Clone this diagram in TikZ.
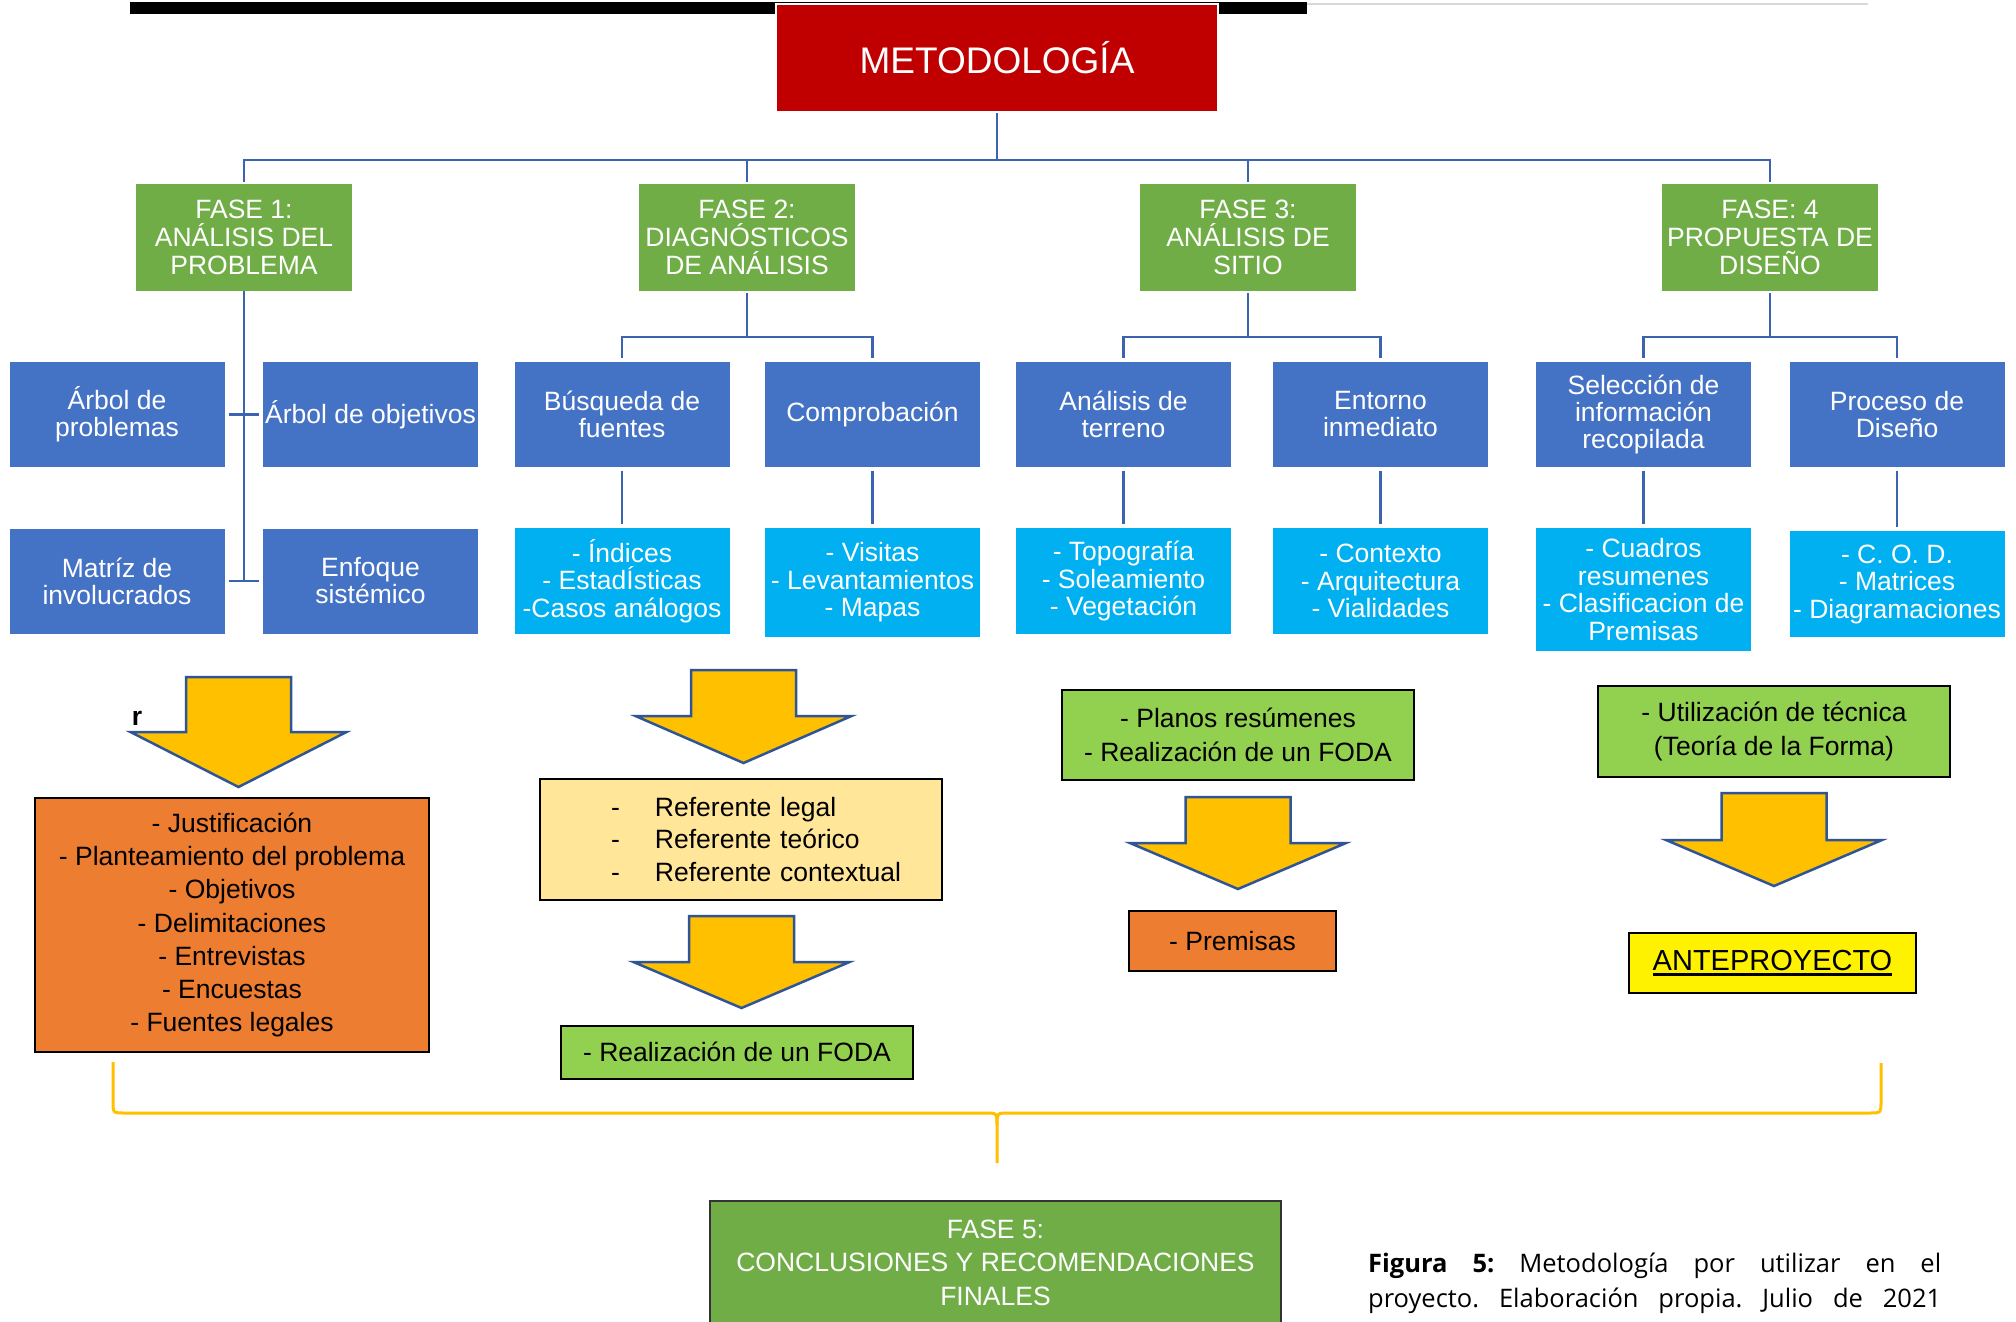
\documentclass[tikz,border=0pt]{standalone}
\usepackage{fontspec}
\setmainfont{Liberation Sans}
\newfontfamily\capfont{Open Sans}
\definecolor{cred}{HTML}{C00000}
\definecolor{cgreen}{HTML}{70AD47}
\definecolor{cblue}{HTML}{4472C4}
\definecolor{clblue}{HTML}{00B0F0}
\definecolor{cline}{HTML}{3C63B0}
\definecolor{corange}{HTML}{ED7D31}
\definecolor{cpale}{HTML}{FFE699}
\definecolor{clgreen}{HTML}{92D050}
\definecolor{cgold}{HTML}{FFC000}
\definecolor{carrowline}{HTML}{2F5597}
\newcommand{\dnarrow}[4]{\draw[barrow] (#1-52.5,#2) -- (#1+52.5,#2) -- (#1+52.5,#3) -- (#1+108,#3) -- (#1,#4) -- (#1-108,#3) -- (#1-52.5,#3) -- cycle;}
\begin{document}
\begin{tikzpicture}[x=1pt,y=-1pt,
  conn/.style={draw=cline, line width=2.5pt},
  phase/.style={rectangle, fill=cgreen, text=white, minimum width=216pt, minimum height=107pt, inner sep=0pt, align=center, font=\fontsize{26.5}{28}\selectfont},
  sub/.style={rectangle, fill=cblue, text=white, minimum width=215pt, minimum height=105pt, inner sep=0pt, align=center, font=\fontsize{26.5}{27}\selectfont},
  lst/.style={rectangle, fill=clblue, text=white, minimum width=215pt, inner sep=0pt, align=center, font=\fontsize{26.5}{27.5}\selectfont},
  res/.style={rectangle, draw=black, line width=2pt, inner sep=0pt, align=center, font=\fontsize{26.5}{33.3}\selectfont},
  barrow/.style={fill=cgold, draw=carrowline, line width=2.5pt, line join=miter},
]
\useasboundingbox (0,0) rectangle (2016,1322);
\fill[white] (0,0) rectangle (2016,1322);
% top bar
\fill[black] (130,2) rectangle (1307,14);
\draw[black!15, line width=2pt] (1307,4) -- (1868,4);
\node[fill=cred, draw=white, line width=2pt, minimum width=442pt, minimum height=108pt, text=white, font=\fontsize{37}{40}\selectfont] (met) at (997,58) {METODOLOGÍA};
% phases
\coordinate (hub) at (997,160);
\node[phase] (f1) at (244,237.5) {FASE 1:\\ANÁLISIS DEL\\PROBLEMA};
\node[phase] (f2) at (747,237.5) {FASE 2:\\DIAGNÓSTICOS\\DE ANÁLISIS};
\node[phase] (f3) at (1248,237.5) {FASE 3:\\ANÁLISIS DE\\SITIO};
\node[phase] (f4) at (1770,237.5) {FASE: 4\\PROPUESTA DE\\DISEÑO};
\draw[conn] (met.south) -- (hub);
\draw[conn, shorten >=2pt] (hub) -| (f1.north);
\draw[conn, shorten >=2pt] (hub) -| (f2.north);
\draw[conn, shorten >=2pt] (hub) -| (f3.north);
\draw[conn, shorten >=2pt] (hub) -| (f4.north);
% sub boxes
\node[sub] (ap) at (117,414.5) {Árbol de\\problemas};
\node[sub] (ao) at (370.5,414.5) {Árbol de objetivos};
\node[sub] (mi) at (117,581) {Matríz de\\involucrados};
\node[sub] (es) at (370.5,581) {Enfoque\\sistémico};
\node[sub] (bf) at (622,414.5) {Búsqueda de\\fuentes};
\node[sub] (co) at (872.5,414.5) {Comprobación};
\node[sub] (at) at (1123.5,414.5) {Análisis de\\terreno};
\node[sub] (ei) at (1380.5,414.5) {Entorno\\inmediato};
\node[sub] (si) at (1643.5,414.5) {Selección de\\información\\recopilada};
\node[sub] (pd) at (1897,414.5) {Proceso de\\Diseño};
% list boxes
\node[lst, minimum height=106pt] (ind) at (622,581) {- Índices\\- EstadÍsticas\\-Casos análogos};
\node[lst, minimum height=109pt] (vis) at (872.5,582.5) {- Visitas\\- Levantamientos\\- Mapas};
\node[lst, minimum height=106pt] (top) at (1123.5,581) {- Topografía\\- Soleamiento\\- Vegetación};
\node[lst, minimum height=106pt] (ctx) at (1380.5,581) {- Contexto\\- Arquitectura\\- Vialidades};
\node[lst, minimum height=123pt] (cua) at (1643.5,589.5) {- Cuadros\\resumenes\\- Clasificacion de\\Premisas};
\node[lst, minimum height=106pt] (cod) at (1897,584) {- C. O. D.\\- Matrices\\- Diagramaciones};
% fase 1 tree
\draw[conn] (f1.south) -- (f1.south |- mi.east);
\draw[conn, shorten <=4pt, shorten >=4pt] (ap.east) -- (ao.west);
\draw[conn, shorten <=4pt, shorten >=4pt] (mi.east) -- (es.west);
% fase 2-4 trees
\coordinate (j2) at (747,337);
\coordinate (j3) at (1248,337);
\coordinate (j4) at (1770,337);
\draw[conn, shorten <=2pt] (f2.south) -- (j2);
\draw[conn, shorten <=2pt] (f3.south) -- (j3);
\draw[conn, shorten <=2pt] (f4.south) -- (j4);
\draw[conn, shorten >=4pt] (j2) -| (bf.north);
\draw[conn, shorten >=4pt] (j2) -| (co.north);
\draw[conn, shorten >=4pt] (j3) -| (at.north);
\draw[conn, shorten >=4pt] (j3) -| (ei.north);
\draw[conn, shorten >=4pt] (j4) -| (si.north);
\draw[conn, shorten >=4pt] (j4) -| (pd.north);
\foreach \a/\b in {bf/ind, co/vis, at/top, ei/ctx, si/cua, pd/cod}
  \draw[conn, shorten <=4pt, shorten >=4pt] (\a.south) -- (\b.north);
% block arrows
\dnarrow{238.5}{677}{732}{787}
\dnarrow{743.5}{670}{716}{763}
\dnarrow{741.5}{916}{962}{1008}
\dnarrow{1238}{797}{843}{889}
\dnarrow{1774}{793}{840}{886}
\node[font=\fontsize{26.5}{28}\selectfont\bfseries, inner sep=0pt] (rr) at (137,718) {r};
% result boxes
\node[res, fill=corange, minimum width=394pt, minimum height=254pt] (jus) at (232,925) {- Justificación\\- Planteamiento del problema\\- Objetivos\\- Delimitaciones\\- Entrevistas\\- Encuestas\\- Fuentes legales};
\node[res, fill=cpale, minimum width=402pt, minimum height=121pt, text width=350pt, align=left, font=\fontsize{26.5}{32.5}\selectfont] (ref) at (741,839.5) {\hspace*{45pt}\makebox[44pt][l]{-}Referente legal\\\hspace*{45pt}\makebox[44pt][l]{-}Referente teórico\\\hspace*{45pt}\makebox[44pt][l]{-}Referente contextual};
\node[res, fill=clgreen, minimum width=352pt, minimum height=53pt] (foda) at (737,1052) {- Realización de un FODA};
\node[res, fill=clgreen, minimum width=352pt, minimum height=90pt] (pla) at (1238,735) {- Planos resúmenes\\- Realización de un FODA};
\node[res, fill=corange, minimum width=207pt, minimum height=60pt] (pre) at (1232.5,941) {- Premisas};
\node[res, fill=clgreen, minimum width=352pt, minimum height=91pt] (uti) at (1774,731.5) {- Utilización de técnica\\(Teoría de la Forma)};
\node[res, fill=yellow, minimum width=287pt, minimum height=60pt, font=\fontsize{29}{32}\selectfont] (ante) at (1772.5,963) {\setbox0\hbox{ANTEPROYECTO}\rlap{\rule[-5pt]{\wd0}{2.7pt}}\box0};
% brace
\draw[draw=cgold, line width=3pt] (113,1062) -- (113,1101) .. controls (113,1113) .. (125,1113) -- (985,1113) .. controls (997,1113) .. (997,1125) -- (997,1163);
\draw[draw=cgold, line width=3pt] (997,1125) .. controls (997,1113) .. (1009,1113) -- (1869,1113) .. controls (1881,1113) .. (1881,1101) -- (1881,1063);
% fase 5
\node[rectangle, fill=cgreen, draw=black!80, line width=1.5pt, minimum width=571pt, minimum height=124pt, anchor=north, text=white, inner sep=0pt, align=center, font=\fontsize{26.5}{33.3}\selectfont] (f5) at (995.5,1200) {FASE 5:\\CONCLUSIONES Y RECOMENDACIONES\\FINALES};
% caption
\node[anchor=north west, inner sep=0pt, align=left, font=\capfont\fontsize{25.5}{35}\selectfont\frenchspacing] (cap) at (1368,1253) {\makebox[573pt][s]{\textbf{Figura 5:} Metodología por utilizar en el}\\\makebox[573pt][s]{proyecto. Elaboración propia. Julio de 2021}};
\end{tikzpicture}
\end{document}
